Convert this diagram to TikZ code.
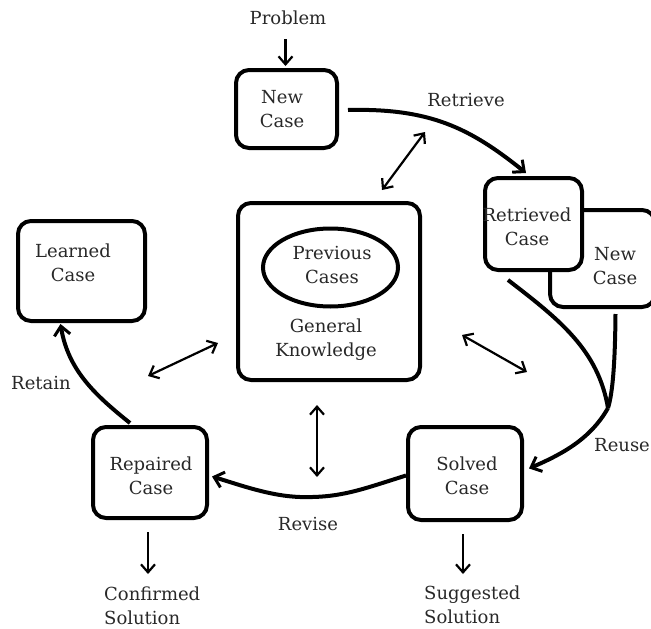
\documentclass[tikz,border=0pt]{standalone}
\usepackage{fontspec}
\setmainfont{DejaVu Serif}
\usetikzlibrary{arrows.meta,shapes.geometric}
\definecolor{txtc}{RGB}{40,40,40}
\tikzset{
  box/.style={draw, line width=4pt, rounded corners=13pt, fill=white, inner sep=0pt},
  txt/.style={text=txtc, font=\fontsize{18}{24}\selectfont, align=center, inner sep=0pt},
  txtl/.style={txt, align=left, anchor=west},
  thickarr/.style={line width=4pt, -{Straight Barb[length=9pt,width=16pt,line width=3pt]}},
  thinarr/.style={line width=2.2pt, -{Straight Barb[length=8pt,width=14pt,line width=2.2pt]}},
  dblarr/.style={line width=2.2pt, {Straight Barb[length=8pt,width=14pt,line width=2.2pt]}-{Straight Barb[length=8pt,width=14pt,line width=2.2pt]}},
  plain/.style={line width=4pt}
}
\begin{document}
\begin{tikzpicture}[x=1pt,y=-1pt]
\useasboundingbox (0,0) rectangle (651,629);
% boxes
\node[box, minimum width=101pt, minimum height=78pt] (nc) at (286.5,109) {};
\node[txt] at (282,109) {New\\Case};
\node[box, minimum width=105pt, minimum height=97pt] (nc2) at (602.5,258.5) {};
\node[txt] at (615,266) {New\\Case};
\node[box, minimum width=97pt, minimum height=92pt] (rc) at (533.5,224) {};
\node[txt] at (527,227) {Retrieved\\Case};
\node[box, minimum width=182pt, minimum height=177pt] (gk) at (329,291.5) {};
\node[draw, line width=4pt, ellipse, minimum width=135pt, minimum height=78pt, inner sep=0pt] (pc) at (330.5,267.5) {};
\node[txt] at (332,265) {Previous\\Cases};
\node[txt] at (326,340) {General\\Knowledge};
\node[box, minimum width=127pt, minimum height=100pt] (lc) at (81.5,271) {};
\node[txt] at (73,263) {Learned\\Case};
\node[box, minimum width=114pt, minimum height=93pt] (sc) at (465,473.5) {};
\node[txt] at (467,476) {Solved\\Case};
\node[box, minimum width=114pt, minimum height=91pt] (rp) at (150,472.5) {};
\node[txt] at (151,476) {Repaired\\Case};
% free labels
\node[txt] (prob) at (288,18) {Problem};
\node[txt] (retr) at (466,100) {Retrieve};
\node[txtl] (reuse) at (594,445) {Reuse};
\node[txt] (revi) at (308,524) {Revise};
\node[txtl] (reta) at (11,383) {Retain};
\node[txtl] (sugg) at (424,605) {Suggested\\Solution};
\node[txtl] (conf) at (104,606) {Confirmed\\Solution};
% coordinates
\coordinate (jn) at (608,408);
% arrows
\draw[thinarr] ([xshift=-1pt,yshift=-14pt]prob.south -| nc.north) -- ([xshift=-1pt,yshift=2pt]nc.north);
\draw[thickarr] ([xshift=9pt,yshift=-1pt]nc.east) .. controls (430,108) and (470,128) .. ([xshift=43pt,yshift=3pt]rc.north west);
\draw[plain] ([xshift=25pt,yshift=-8pt]rc.south west) .. controls (560,320) and (598,350) .. (jn);
\draw[plain] ([xshift=13pt,yshift=-5pt]nc2.south) .. controls (615,370) and (612,395) .. (jn);
\draw[thickarr] (jn) .. controls (590,440) and (560,455) .. ([xshift=5pt,yshift=5pt]sc.east);
\draw[thickarr] ([yshift=-2pt]sc.west) .. controls (360,490) and (340,498) .. (300,497) .. controls (270,496) and (240,485) .. ([xshift=3pt,yshift=-4pt]rp.east);
\draw[thickarr] ([xshift=-20pt,yshift=2pt]rp.north) .. controls (95,395) and (68,370) .. ([xshift=-21pt,yshift=-1pt]lc.south);
\draw[thinarr] ([xshift=-2pt,yshift=-12pt]rp.south) -- ++(0,42);
\draw[thinarr] ([xshift=-2pt,yshift=-12pt]sc.south) -- ++(0,40);
\draw[dblarr] (425,132) -- (382,190);
\draw[dblarr] (462,335) -- (527,372);
\draw[dblarr] (148,376) -- (218,343);
\draw[dblarr] ([xshift=-12pt,yshift=-23pt]gk.south) -- ++(0,72);
\end{tikzpicture}
\end{document}
